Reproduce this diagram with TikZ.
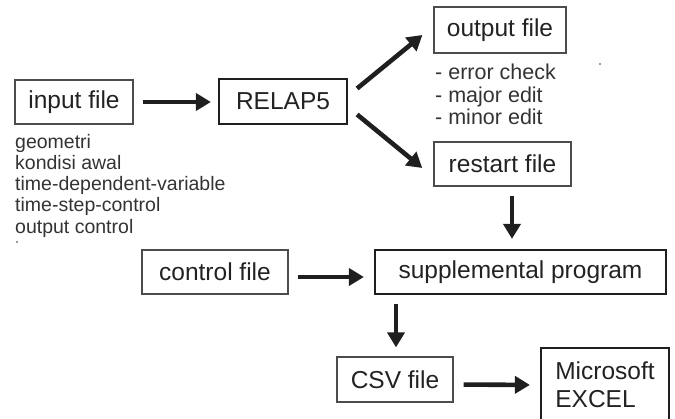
\documentclass[tikz,border=0pt]{standalone}
\usepackage{fontspec}
\setmainfont{Liberation Sans}
\usepackage{xcolor}
\usepackage{tikz}
\usetikzlibrary{arrows.meta,positioning}

\definecolor{boxtext}{HTML}{222222}
\definecolor{notetext}{HTML}{333333}

\begin{document}
\begin{tikzpicture}[
  x=1pt, y=-1pt,
  font=\fontsize{24.5}{28}\selectfont,
  filebox/.style={draw=black!70, line width=1.2pt, text=boxtext, inner sep=0pt, minimum height=44pt},
  progbox/.style={filebox, draw=black!88, line width=2.2pt},
  note/.style={text=notetext, align=left, inner sep=0pt, anchor=north west},
  arrow/.style={-{Triangle[length=15pt,width=17pt]}, line width=4.6pt, draw=black!88}
]
\useasboundingbox (0,0) rectangle (675,419);

\node[filebox, minimum width=118pt] (input) at (74,102) {input file};
\node[progbox, minimum width=128pt, minimum height=45pt] (relap) at (283,101.5) {RELAP5};
\node[filebox, minimum width=132pt, minimum height=46pt] (output) at (500,30) {output file};
\node[filebox, minimum width=137pt, line width=1.5pt] (restart) at (502.5,164) {restart file};
\node[filebox, minimum width=146pt] (control) at (215,272) {control file};
\node[progbox, minimum width=291pt] (supp) at (520.5,272) {supplemental program};
\node[filebox, minimum width=116pt, minimum height=45pt] (csv) at (395,379.5) {CSV file};
\node[progbox, minimum width=128pt, minimum height=74pt, align=left] (excel) at (605,385) {Microsoft\\EXCEL};

% keterangan
\node[note, font=\fontsize{19.5}{21.2}\selectfont] (inputnote) at (15,134)
  {geometri\\kondisi awal\\time-dependent-variable\\time-step-control\\output control};
\node[note, font=\fontsize{21.5}{22.5}\selectfont] (outputnote) at (435,64)
  {- error check\\- major edit\\- minor edit};

\fill[notetext] (17,242) circle (0.8);
\fill[notetext] (600,64) circle (0.8);

\draw[arrow, shorten <=9pt, shorten >=7pt] (input.east) -- (input.east -| relap.west);
\draw[arrow] ([xshift=9pt,yshift=13pt]relap.east) -- ([xshift=-11pt,yshift=-5pt]output.west);
\draw[arrow] ([xshift=9pt,yshift=-13pt]relap.east) -- ([xshift=-11pt,yshift=-4pt]restart.west);
\draw[arrow, shorten <=9pt, shorten >=10pt] ([xshift=9.5pt]restart.south) -- ([xshift=-8.5pt]supp.north);
\draw[arrow, shorten <=9pt, shorten >=10pt] ([yshift=-5pt]control.east) -- ([yshift=-5pt]supp.west);
\draw[arrow, shorten <=9pt, shorten >=9pt] ([xshift=1pt]csv.north |- supp.south) -- ([xshift=1pt]csv.north);
\draw[arrow, shorten <=10pt, shorten >=10pt] ([yshift=-5pt]csv.east) -- (excel.west);
\end{tikzpicture}
\end{document}
